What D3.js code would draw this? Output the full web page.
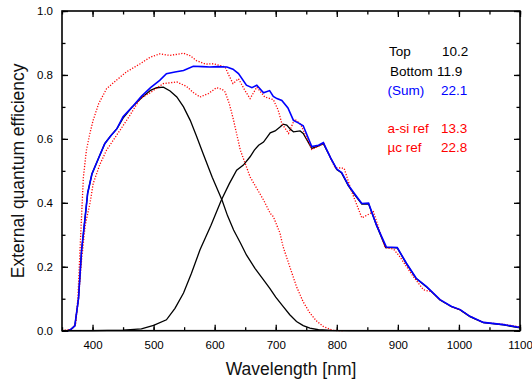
<!DOCTYPE html>
<html>
<head>
<meta charset="utf-8">
<script src="https://cdn.jsdelivr.net/npm/d3@7"></script>
<style>
  body { margin: 0; background: #fff; }
  svg { display: block; font-family: "Liberation Sans", Arial, sans-serif; }
</style>
</head>
<body>
<svg id="chart" width="532" height="383"></svg>
<script>
// Measured EQE curves, [wavelength nm, efficiency]
const topCell = [[350,0],[360,0],[365,0.005],[371,0.015],[377,0.1],[382,0.25],[388,0.357],[392,0.43],[399,0.49],[410,0.54],[420,0.585],[430,0.61],[440,0.632],[450,0.665],[465,0.70],[480,0.728],[495,0.752],[505,0.76],[516,0.762],[527,0.75],[538,0.731],[549,0.70],[560,0.658],[570,0.61],[581,0.554],[596,0.48],[612,0.409],[621,0.36],[631,0.315],[642,0.275],[652,0.237],[666,0.195],[680,0.159],[690,0.133],[700,0.105],[712,0.076],[723,0.05],[734,0.029],[745,0.016],[756,0.008],[770,0.003],[790,0.001],[820,0],[1100,0]];
const bottomCell = [[350,0],[400,0],[450,0.002],[480,0.006],[500,0.017],[521,0.034],[535,0.07],[549,0.118],[562,0.18],[576,0.253],[594,0.33],[611,0.409],[624,0.46],[636,0.502],[647,0.518],[658,0.544],[665,0.565],[672,0.58],[680,0.59],[691,0.619],[699,0.625],[707,0.637],[712,0.646],[718,0.643],[724,0.63],[729,0.622],[740,0.625],[745,0.617],[759,0.57],[770,0.578],[778,0.585],[790,0.54],[800,0.504],[808,0.493],[819,0.453],[830,0.423],[841,0.396],[852,0.397],[865,0.33],[880,0.26],[890,0.26],[899,0.259],[914,0.21],[930,0.163],[947,0.137],[969,0.096],[988,0.075],[1002,0.065],[1018,0.044],[1040,0.025],[1073,0.018],[1100,0.009]];
const sumCell = [[350,0],[360,0],[365,0.005],[371,0.015],[377,0.1],[382,0.25],[388,0.357],[392,0.43],[399,0.49],[410,0.54],[420,0.585],[430,0.61],[440,0.632],[450,0.669],[465,0.70],[480,0.733],[495,0.76],[510,0.783],[521,0.804],[535,0.809],[549,0.814],[565,0.827],[580,0.826],[592,0.825],[605,0.826],[620,0.825],[630,0.818],[639,0.804],[652,0.768],[661,0.76],[669,0.768],[680,0.744],[690,0.751],[696,0.733],[702,0.726],[710,0.72],[720,0.697],[729,0.658],[737,0.65],[745,0.641],[759,0.576],[770,0.58],[778,0.588],[790,0.54],[800,0.505],[808,0.495],[819,0.455],[830,0.426],[841,0.398],[852,0.399],[865,0.33],[881,0.262],[890,0.261],[899,0.26],[914,0.211],[930,0.164],[947,0.138],[969,0.097],[988,0.076],[1002,0.066],[1018,0.045],[1040,0.026],[1073,0.019],[1100,0.010]];
const asiRef = [[350,0],[365,0.003],[372,0.02],[377,0.1],[382,0.22],[388,0.33],[396,0.40],[401,0.46],[412,0.52],[423,0.565],[445,0.627],[460,0.67],[478,0.726],[494,0.744],[516,0.773],[538,0.778],[554,0.764],[565,0.745],[576,0.731],[590,0.742],[603,0.76],[612,0.755],[617,0.747],[624,0.71],[631,0.658],[642,0.565],[658,0.481],[680,0.409],[691,0.367],[696,0.357],[707,0.305],[712,0.263],[723,0.2],[734,0.138],[745,0.09],[756,0.055],[767,0.03],[778,0.013],[794,0.001],[810,0]];
const ucRef = [[350,0],[365,0.003],[372,0.02],[376,0.1],[380,0.274],[385,0.48],[390,0.565],[396,0.62],[401,0.658],[410,0.71],[423,0.757],[440,0.785],[456,0.81],[478,0.835],[494,0.855],[510,0.866],[527,0.861],[549,0.868],[560,0.86],[570,0.845],[585,0.834],[598,0.835],[617,0.825],[623,0.8],[630,0.773],[639,0.788],[650,0.75],[658,0.726],[669,0.762],[682,0.731],[696,0.723],[704,0.69],[710,0.648],[721,0.617],[731,0.662],[741,0.645],[759,0.567],[779,0.585],[797,0.51],[812,0.508],[824,0.437],[841,0.353],[860,0.372],[879,0.26],[893,0.255],[903,0.232],[925,0.17],[942,0.128],[955,0.122],[969,0.097],[988,0.075],[1002,0.065],[1018,0.045],[1040,0.026],[1073,0.02],[1100,0.012]];

// Legend: label, Jsc value
const legendLabels = ['Top', 'Bottom', '(Sum)', 'a-si ref', '\u00b5c ref'];
const legendValues = ['10.2', '11.9', '22.1', '13.3', '22.8'];

const xTicks = [400, 500, 600, 700, 800, 900, 1000, 1100];
const yTicks = [0.0, 0.2, 0.4, 0.6, 0.8, 1.0];

const svg = d3.select('#chart');
const plotLeft = 62, plotRight = 520, plotTop = 11, plotBottom = 330.7;

const xScale = d3.scaleLinear().domain([350, 1100]).range([plotLeft, plotRight]);
const yScale = d3.scaleLinear().domain([0, 1]).range([plotBottom, plotTop]);

const line = d3.line()
    .x(d => xScale(d[0]))
    .y(d => yScale(d[1]));

// Curves
const curves = [
    { data: topCell, color: '#000', width: 1.3, dash: null },
    { data: bottomCell, color: '#000', width: 1.3, dash: null },
    { data: asiRef, color: '#ff0000', width: 1.3, dash: '1.2,1.6' },
    { data: ucRef, color: '#ff0000', width: 1.3, dash: '1.2,1.6' },
    { data: sumCell, color: '#0000ff', width: 1.6, dash: null }
];
curves.forEach(c => {
    svg.append('path')
        .datum(c.data)
        .attr('d', line)
        .attr('fill', 'none')
        .attr('stroke', c.color)
        .attr('stroke-width', c.width)
        .attr('stroke-dasharray', c.dash);
});

// Axes with inward ticks
const xMinor = d3.range(350, 1101, 50);
const yMinor = d3.range(0, 1.01, 0.1);

svg.append('g').attr('transform', `translate(0,${plotBottom})`)
    .call(d3.axisBottom(xScale).tickValues(xMinor).tickSize(-3.5).tickFormat(''));
svg.append('g').attr('transform', `translate(0,${plotTop})`)
    .call(d3.axisTop(xScale).tickValues(xMinor).tickSize(-3.5).tickFormat(''));
svg.append('g').attr('transform', `translate(0,${plotBottom})`)
    .call(d3.axisBottom(xScale).tickValues(xTicks).tickSize(-6).tickPadding(10).tickFormat(d3.format('d')));
svg.append('g').attr('transform', `translate(0,${plotTop})`)
    .call(d3.axisTop(xScale).tickValues(xTicks).tickSize(-6).tickFormat(''));

svg.append('g').attr('transform', `translate(${plotLeft},0)`)
    .call(d3.axisLeft(yScale).tickValues(yMinor).tickSize(-3.5).tickFormat(''));
svg.append('g').attr('transform', `translate(${plotRight},0)`)
    .call(d3.axisRight(yScale).tickValues(yMinor).tickSize(-3.5).tickFormat(''));
svg.append('g').attr('transform', `translate(${plotLeft},0)`)
    .call(d3.axisLeft(yScale).tickValues(yTicks).tickSize(-6).tickPadding(9).tickFormat(d3.format('.1f')));
svg.append('g').attr('transform', `translate(${plotRight},0)`)
    .call(d3.axisRight(yScale).tickValues(yTicks).tickSize(-6).tickFormat(''));

svg.selectAll('.domain').remove();
svg.selectAll('.tick line').attr('stroke', '#000').attr('stroke-width', 1.3);
svg.selectAll('.tick text')
    .attr('font-family', '"Liberation Sans", Arial, sans-serif')
    .attr('font-size', 11.5)
    .attr('fill', '#000');

// Frame
svg.append('rect')
    .attr('x', plotLeft).attr('y', plotTop)
    .attr('width', plotRight - plotLeft).attr('height', plotBottom - plotTop)
    .attr('fill', 'none')
    .attr('stroke', '#000')
    .attr('stroke-width', 1.6);

// Axis titles
svg.append('text')
    .attr('x', (plotLeft + plotRight) / 2)
    .attr('y', 375)
    .attr('text-anchor', 'middle')
    .attr('font-size', 17.5)
    .attr('fill', '#111')
    .text('Wavelength [nm]');

svg.append('text')
    .attr('transform', `translate(24,${(plotTop + plotBottom) / 2}) rotate(-90)`)
    .attr('text-anchor', 'middle')
    .attr('font-size', 17.5)
    .attr('fill', '#111')
    .text('External quantum efficiency');

// Legend text block
const legendColors = ['#000', '#000', '#0000ff', '#ff0000', '#ff0000'];
const legendY = [56, 76, 95, 133, 152];
const labelX = [389, 390, 387.5, 387.5, 387.5];
const valueX = [442, 437, 441, 441, 441];
legendLabels.forEach((lab, i) => {
    svg.append('text')
        .attr('x', labelX[i]).attr('y', legendY[i])
        .attr('font-size', 13.5)
        .attr('fill', legendColors[i])
        .text(lab);
    svg.append('text')
        .attr('x', valueX[i]).attr('y', legendY[i])
        .attr('font-size', 13.5)
        .attr('fill', legendColors[i])
        .text(legendValues[i]);
});
</script>
</body>
</html>
